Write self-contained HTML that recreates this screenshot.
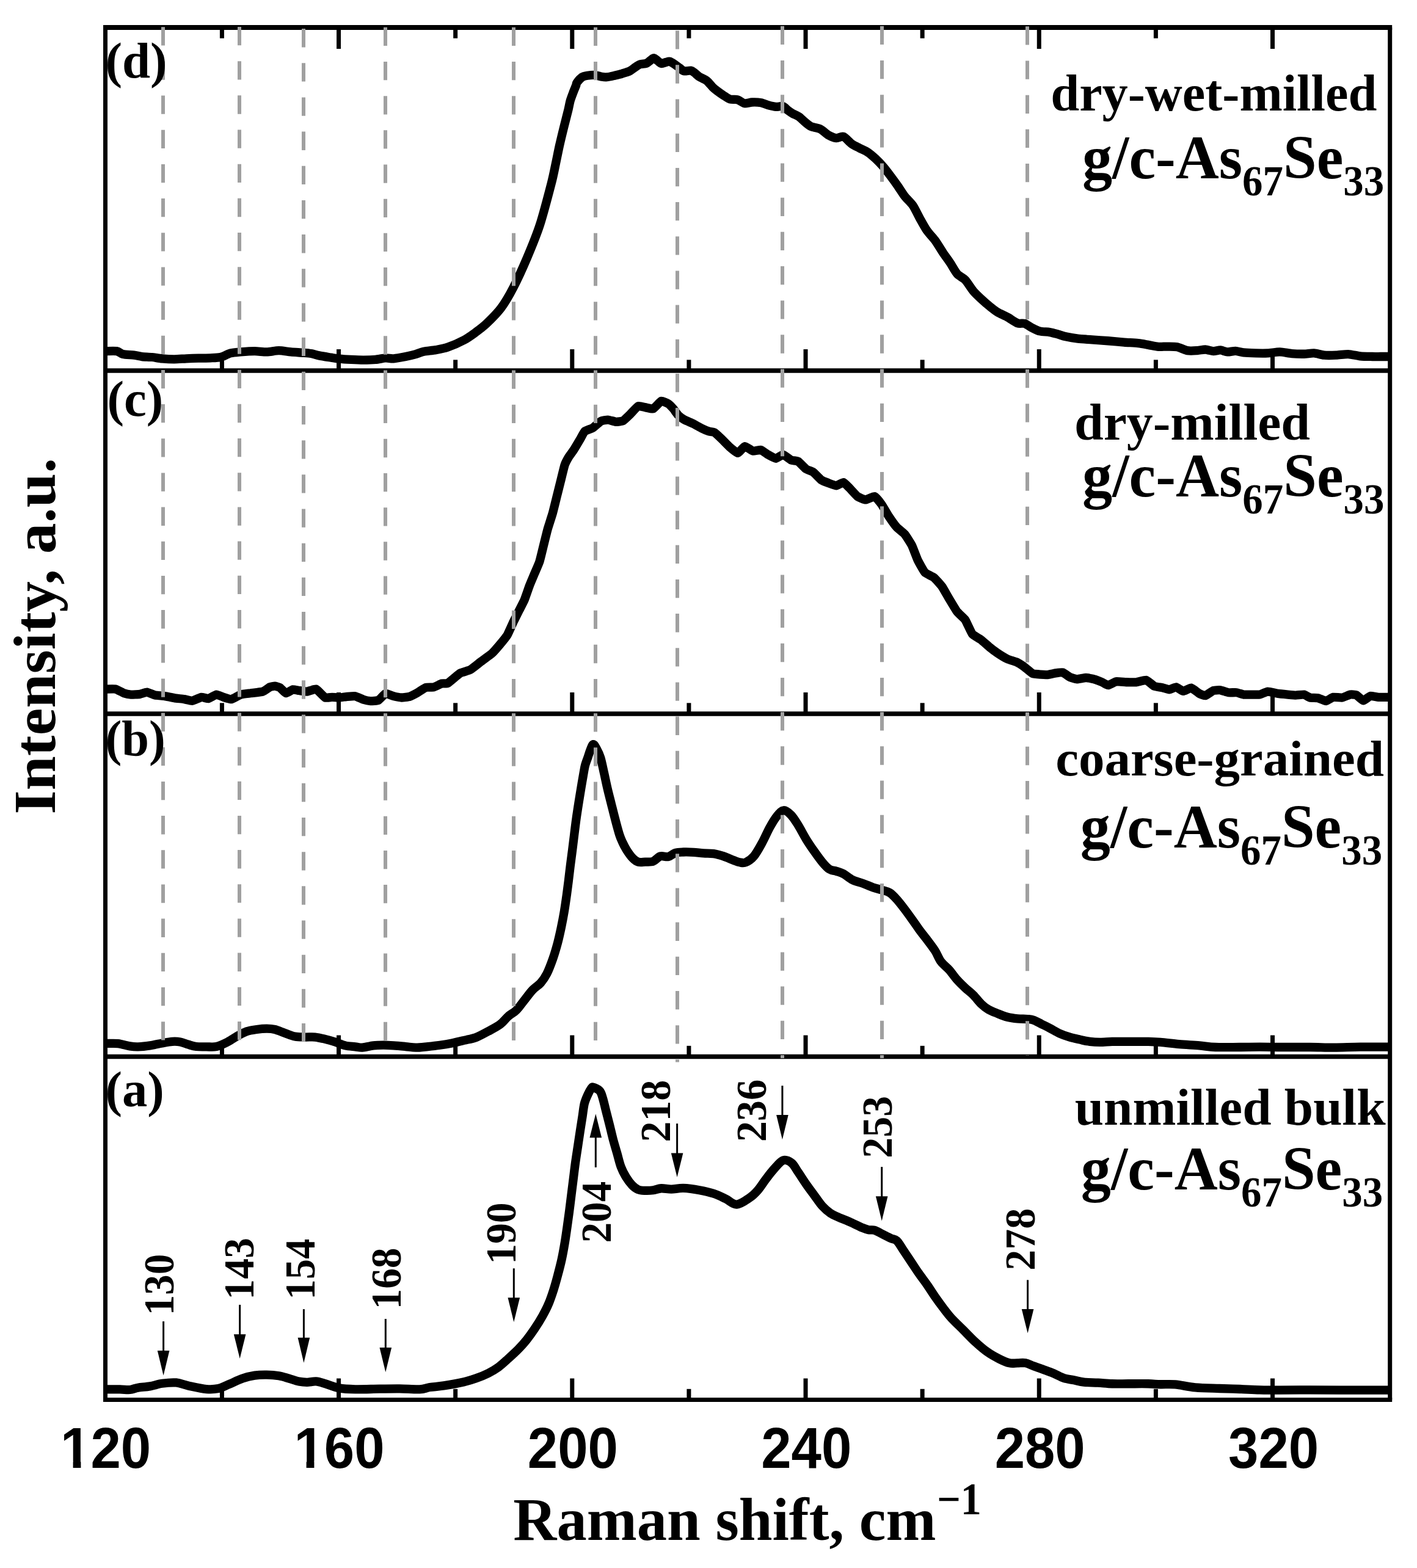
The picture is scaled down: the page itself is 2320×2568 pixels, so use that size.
<!DOCTYPE html>
<html lang="en"><head><meta charset="utf-8"><title>Raman spectra of g/c-As67Se33</title>
<style>html,body{margin:0;padding:0;background:#fff}body{width:2320px;height:2568px;overflow:hidden}svg{display:block}text{font-family:"Liberation Serif","DejaVu Serif",serif;font-weight:bold;fill:#000}.tk{font-family:"Liberation Sans","DejaVu Sans",sans-serif;font-weight:bold}</style></head><body>
<svg width="2320" height="2568" viewBox="0 0 2320 2568">
<rect width="2320" height="2568" fill="#fff"/>
<g stroke="#000" fill="none">
<line x1="169" y1="45" x2="2279.2" y2="45" stroke-width="8.0"/>
<line x1="169" y1="2292.5" x2="2279.2" y2="2292.5" stroke-width="7.0"/>
<line x1="172.5" y1="45" x2="172.5" y2="2292.5" stroke-width="7.0"/>
<line x1="2275.7" y1="45" x2="2275.7" y2="2292.5" stroke-width="7.0"/>
<line x1="172.5" y1="607" x2="2275.7" y2="607" stroke-width="7.5"/>
<line x1="172.5" y1="1169" x2="2275.7" y2="1169" stroke-width="7.5"/>
<line x1="172.5" y1="1730.5" x2="2275.7" y2="1730.5" stroke-width="7.5"/>
</g>
<g stroke="#000" stroke-width="7.0" fill="none">
<line x1="363.42" y1="45" x2="363.42" y2="62.7"/>
<line x1="363.42" y1="607" x2="363.42" y2="589.3"/>
<line x1="363.42" y1="1169" x2="363.42" y2="1151.3"/>
<line x1="363.42" y1="1730.5" x2="363.42" y2="1712.8"/>
<line x1="363.42" y1="2292.5" x2="363.42" y2="2274.8"/>
<line x1="554.54" y1="45" x2="554.54" y2="80"/>
<line x1="554.54" y1="607" x2="554.54" y2="572"/>
<line x1="554.54" y1="1169" x2="554.54" y2="1134"/>
<line x1="554.54" y1="1730.5" x2="554.54" y2="1695.5"/>
<line x1="554.54" y1="2292.5" x2="554.54" y2="2257.5"/>
<line x1="745.66" y1="45" x2="745.66" y2="62.7"/>
<line x1="745.66" y1="607" x2="745.66" y2="589.3"/>
<line x1="745.66" y1="1169" x2="745.66" y2="1151.3"/>
<line x1="745.66" y1="1730.5" x2="745.66" y2="1712.8"/>
<line x1="745.66" y1="2292.5" x2="745.66" y2="2274.8"/>
<line x1="936.78" y1="45" x2="936.78" y2="80"/>
<line x1="936.78" y1="607" x2="936.78" y2="572"/>
<line x1="936.78" y1="1169" x2="936.78" y2="1134"/>
<line x1="936.78" y1="1730.5" x2="936.78" y2="1695.5"/>
<line x1="936.78" y1="2292.5" x2="936.78" y2="2257.5"/>
<line x1="1127.9" y1="45" x2="1127.9" y2="62.7"/>
<line x1="1127.9" y1="607" x2="1127.9" y2="589.3"/>
<line x1="1127.9" y1="1169" x2="1127.9" y2="1151.3"/>
<line x1="1127.9" y1="1730.5" x2="1127.9" y2="1712.8"/>
<line x1="1127.9" y1="2292.5" x2="1127.9" y2="2274.8"/>
<line x1="1319.02" y1="45" x2="1319.02" y2="80"/>
<line x1="1319.02" y1="607" x2="1319.02" y2="572"/>
<line x1="1319.02" y1="1169" x2="1319.02" y2="1134"/>
<line x1="1319.02" y1="1730.5" x2="1319.02" y2="1695.5"/>
<line x1="1319.02" y1="2292.5" x2="1319.02" y2="2257.5"/>
<line x1="1510.14" y1="45" x2="1510.14" y2="62.7"/>
<line x1="1510.14" y1="607" x2="1510.14" y2="589.3"/>
<line x1="1510.14" y1="1169" x2="1510.14" y2="1151.3"/>
<line x1="1510.14" y1="1730.5" x2="1510.14" y2="1712.8"/>
<line x1="1510.14" y1="2292.5" x2="1510.14" y2="2274.8"/>
<line x1="1701.26" y1="45" x2="1701.26" y2="80"/>
<line x1="1701.26" y1="607" x2="1701.26" y2="572"/>
<line x1="1701.26" y1="1169" x2="1701.26" y2="1134"/>
<line x1="1701.26" y1="1730.5" x2="1701.26" y2="1695.5"/>
<line x1="1701.26" y1="2292.5" x2="1701.26" y2="2257.5"/>
<line x1="1892.38" y1="45" x2="1892.38" y2="62.7"/>
<line x1="1892.38" y1="607" x2="1892.38" y2="589.3"/>
<line x1="1892.38" y1="1169" x2="1892.38" y2="1151.3"/>
<line x1="1892.38" y1="1730.5" x2="1892.38" y2="1712.8"/>
<line x1="1892.38" y1="2292.5" x2="1892.38" y2="2274.8"/>
<line x1="2083.5" y1="45" x2="2083.5" y2="80"/>
<line x1="2083.5" y1="607" x2="2083.5" y2="572"/>
<line x1="2083.5" y1="1169" x2="2083.5" y2="1134"/>
<line x1="2083.5" y1="1730.5" x2="2083.5" y2="1695.5"/>
<line x1="2083.5" y1="2292.5" x2="2083.5" y2="2257.5"/>
</g>
<clipPath id="plot"><rect x="172.5" y="45" width="2103.2" height="2247.5"/></clipPath>
<g clip-path="url(#plot)" stroke="#000" stroke-width="14.3" fill="none" stroke-linejoin="round" stroke-linecap="butt">
<path d="M172.5,575.12C175.01,575.12 187.48,574.46 191.3,575.12C195.13,575.78 197.45,579.19 201.19,580.07C204.92,580.94 215.13,581.19 219.31,581.71C223.48,582.24 228.53,583.58 232.49,584.02C236.44,584.46 244.57,584.57 248.96,585.01C253.36,585.45 260.6,586.88 265.44,587.31C270.27,587.75 279.93,588.3 285.21,588.3C290.48,588.3 299.7,587.53 304.98,587.31C310.25,587.1 319.47,586.79 324.74,586.66C330.02,586.52 339.68,586.55 344.51,586.33C349.35,586.11 356.6,586.06 360.99,585.01C365.38,583.95 373.07,579.56 377.46,578.42C381.86,577.28 388.67,576.88 393.94,576.44C399.21,576 411.29,575.12 417,575.12C422.71,575.12 431.5,576.57 436.77,576.44C442.04,576.31 451.27,574.14 456.54,574.14C461.81,574.14 471.04,575.96 476.31,576.44C481.58,576.92 491.69,577.41 496.08,577.76C500.47,578.11 505.74,578.46 509.26,579.08C512.77,579.69 518.05,581.49 522.44,582.37C526.83,583.25 537.81,584.96 542.21,585.67C546.6,586.37 550.99,587.2 555.39,587.64C559.78,588.08 569.88,588.7 575.16,588.96C580.43,589.23 589.65,589.62 594.93,589.62C600.2,589.62 609.86,589.4 614.7,588.96C619.53,588.52 627.22,586.55 631.17,586.33C635.12,586.11 639.96,587.62 644.35,587.31C648.74,587.01 659.29,584.99 664.12,584.02C668.95,583.05 676.64,581.16 680.59,580.07C684.55,578.97 689.38,576.71 693.77,575.78C698.17,574.86 708.27,574.11 713.54,573.15C718.81,572.18 727.1,570.72 733.31,568.53C739.52,566.35 754.12,559.93 760.1,556.74C766.09,553.56 773.39,548.21 778.23,544.66C783.06,541.12 790.71,535.56 796.35,530.16C801.99,524.77 814.63,512.08 820.51,504.19C826.39,496.3 834.81,481.84 840.44,470.97C846.08,460.09 857,436.33 862.8,422.64C868.59,408.95 878.6,384.63 883.94,368.28C889.27,351.92 899.36,313.28 902.8,300C906.24,286.72 907.95,276.85 909.7,268.7C911.45,260.55 914.13,246.85 915.9,238.9C917.67,230.95 921.05,217.03 923,209.1C924.95,201.17 929.06,185.35 930.5,179.4C931.94,173.45 932.64,168.47 933.8,164.5C934.96,160.53 937.95,152.91 939.2,149.6C940.45,146.29 942.5,141.6 943.2,139.7C943.9,137.8 943.16,137.17 944.48,135.37C945.81,133.57 950.82,127.78 953.13,126.23C955.44,124.68 958.98,124.18 961.78,123.76C964.58,123.33 971.17,122.78 974.14,123.01C977.1,123.25 981.38,125.06 984.02,125.49C986.66,125.91 990.94,126.46 993.9,126.23C996.87,126 1002.97,124.51 1006.26,123.76C1009.56,123 1015.32,121.53 1018.62,120.54C1021.91,119.56 1028.01,117.83 1030.97,116.34C1033.94,114.86 1038.55,110.91 1040.86,109.42C1043.16,107.94 1045.96,105.98 1048.27,105.22C1050.58,104.46 1055.85,104.66 1058.15,103.74C1060.46,102.82 1063.92,99.46 1065.57,98.3C1067.22,97.15 1069.03,94.93 1070.51,95.09C1071.99,95.26 1075.04,98.35 1076.69,99.54C1078.34,100.72 1081.05,103.66 1082.87,103.99C1084.68,104.32 1088.47,102.44 1090.28,102.01C1092.09,101.58 1094.48,100.28 1096.46,100.77C1098.43,101.27 1102.97,104.33 1105.11,105.72C1107.25,107.1 1110.54,109.74 1112.52,111.15C1114.5,112.57 1117.46,115.75 1119.93,116.34C1122.41,116.94 1128.75,115.21 1131.05,115.6C1133.36,116 1135.42,117.99 1137.23,119.31C1139.04,120.63 1142.01,123.77 1144.65,125.49C1147.28,127.2 1154.04,129.85 1157,132.16C1159.97,134.46 1164.58,140.54 1166.89,142.78C1169.19,145.02 1171.99,147.22 1174.3,148.96C1176.61,150.71 1181.38,154.07 1184.18,155.88C1186.99,157.69 1192.17,161.57 1195.3,162.55C1198.43,163.54 1204.53,162.41 1207.66,163.29C1210.79,164.18 1215.65,168.67 1218.78,169.23C1221.91,169.79 1227.51,167.63 1231.14,167.5C1234.76,167.36 1242.34,167.58 1245.96,168.24C1249.59,168.9 1255.02,171.55 1258.32,172.44C1261.61,173.33 1267.55,174.68 1270.68,174.91C1273.81,175.14 1279.16,173.34 1281.8,174.17C1284.43,174.99 1288.3,179.51 1290.44,181.09C1292.59,182.67 1295.55,184.71 1297.86,186.03C1300.16,187.35 1305.11,189.16 1307.74,190.97C1310.38,192.78 1314.99,197.48 1317.63,199.62C1320.26,201.76 1324.12,205.48 1327.51,207.03C1330.9,208.59 1339.23,209.41 1343.06,211.3C1346.9,213.19 1352.73,219.21 1356.24,221.19C1359.76,223.16 1366.13,225.78 1369.42,226.13C1372.72,226.48 1377.66,222.59 1380.96,223.82C1384.25,225.05 1390.62,232.85 1394.14,235.35C1397.65,237.86 1403.8,240.76 1407.31,242.6C1410.83,244.45 1416.98,246.86 1420.49,249.19C1424.01,251.52 1430.16,256.77 1433.67,260.07C1437.19,263.36 1443.56,270.08 1446.85,273.9C1450.15,277.73 1455.31,284.65 1458.39,288.73C1461.46,292.82 1466.84,300.15 1469.92,304.55C1472.99,308.94 1478.15,317.42 1481.45,321.68C1484.74,325.94 1491.33,331.67 1494.63,336.51C1497.92,341.34 1503.09,352.43 1506.16,357.92C1509.24,363.42 1514.4,372.95 1517.69,377.69C1520.99,382.44 1527.36,388.68 1530.87,393.51C1534.39,398.34 1540.76,409.02 1544.05,413.94C1547.35,418.86 1552.51,425.8 1555.58,430.41C1558.66,435.02 1563.82,444.8 1567.12,448.53C1570.41,452.27 1576.78,454.68 1580.3,458.42C1583.81,462.15 1589.96,472.37 1593.48,476.54C1596.99,480.71 1603.14,486.43 1606.66,489.72C1610.17,493.01 1616.32,498.4 1619.84,501.25C1623.35,504.11 1629.06,508.72 1633.01,511.14C1636.97,513.55 1645.1,516.96 1649.49,519.37C1653.88,521.79 1662.23,527.85 1665.96,529.26C1669.7,530.66 1674.42,528.95 1677.5,529.92C1680.57,530.88 1685.73,534.84 1689.03,536.51C1692.32,538.18 1698.25,541.43 1702.21,542.44C1706.16,543.45 1714.73,543.43 1718.68,544.09C1722.64,544.74 1728.35,546.41 1731.86,547.38C1735.38,548.35 1740.65,550.37 1745.04,551.33C1749.43,552.3 1759.1,553.97 1764.81,554.63C1770.52,555.29 1781.29,555.79 1787.87,556.28C1794.46,556.76 1807.2,557.68 1814.23,558.25C1821.26,558.82 1834,560.03 1840.59,560.56C1847.18,561.09 1858.39,561.64 1863.66,562.21C1868.93,562.78 1875.74,564.1 1880.13,564.84C1884.52,565.59 1892.51,567.45 1896.61,567.81C1900.71,568.17 1906.77,567.49 1910.87,567.55C1914.97,567.6 1922.95,567.33 1927.35,568.2C1931.74,569.08 1939.43,573.34 1943.82,574.14C1948.22,574.93 1956.34,574.35 1960.3,574.14C1964.25,573.92 1969.96,572.36 1973.48,572.49C1976.99,572.62 1983.36,574.99 1986.66,575.12C1989.95,575.26 1995.11,573.3 1998.19,573.48C2001.26,573.65 2006.43,576.27 2009.72,576.44C2013.01,576.62 2019.38,574.66 2022.9,574.79C2026.41,574.93 2031.69,576.95 2036.08,577.43C2040.47,577.91 2050.58,578.29 2055.85,578.42C2061.12,578.55 2070.35,578.68 2075.62,578.42C2080.89,578.15 2090.12,576.35 2095.39,576.44C2100.66,576.53 2109.88,578.64 2115.16,579.08C2120.43,579.52 2130.09,579.82 2134.93,579.74C2139.76,579.65 2147.01,578.15 2151.4,578.42C2155.79,578.68 2163.04,581.27 2167.87,581.71C2172.71,582.15 2182.37,581.93 2187.64,581.71C2192.92,581.49 2202.14,579.85 2207.41,580.07C2212.69,580.29 2221.91,582.83 2227.18,583.36C2232.45,583.89 2242.56,583.93 2246.95,584.02C2251.35,584.11 2256.3,584.02 2260.13,584.02C2263.96,584.02 2273.62,584.02 2275.7,584.02"/>
<path d="M172.5,1128.65C173.64,1128.65 187.63,1128.21 189.65,1128.65C191.68,1129.09 201.19,1134.65 202.83,1135.24C204.48,1135.83 212.61,1137.44 214.37,1137.55C216.12,1137.66 227.44,1137.15 229.19,1136.89C230.95,1136.62 239.08,1133.48 240.72,1133.59C242.37,1133.7 252.04,1138.12 253.9,1138.53C255.77,1138.95 266.64,1139.54 268.73,1139.85C270.82,1140.16 283.01,1142.8 285.21,1143.15C287.4,1143.5 299.7,1144.82 301.68,1145.12C303.66,1145.43 312.99,1147.98 314.86,1147.76C316.73,1147.54 327.93,1142.07 329.69,1141.83C331.44,1141.59 339.57,1144.42 341.22,1144.14C342.87,1143.85 352.75,1137.7 354.4,1137.55C356.05,1137.39 364.28,1141.32 365.93,1141.83C367.58,1142.33 377.24,1145.41 379.11,1145.12C380.98,1144.84 391.85,1138.2 393.94,1137.55C396.02,1136.89 408,1135.57 410.41,1135.24C412.83,1134.91 428.09,1133.26 430.18,1132.6C432.27,1131.94 440.4,1125.95 441.71,1125.35C443.03,1124.76 448.85,1123.66 449.95,1123.71C451.05,1123.75 456.98,1125.24 458.19,1126.01C459.4,1126.78 466.64,1135.02 468.07,1135.24C469.5,1135.46 478.18,1129.59 479.6,1129.31C481.03,1129.02 487.95,1130.74 489.49,1130.96C491.03,1131.18 500.8,1132.76 502.67,1132.6C504.54,1132.45 515.52,1127.99 517.5,1128.65C519.47,1129.31 530.57,1141.61 532.32,1142.49C534.08,1143.37 542.32,1141.83 543.86,1141.83C545.39,1141.83 553.74,1142.55 555.39,1142.49C557.03,1142.42 566.81,1140.99 568.57,1140.84C570.32,1140.69 579.99,1139.85 581.75,1140.18C583.5,1140.51 593.28,1145.26 594.93,1145.78C596.57,1146.31 604.81,1148.02 606.46,1148.09C608.11,1148.15 617.99,1147.58 619.64,1146.77C621.29,1145.96 629.52,1136.34 631.17,1135.9C632.82,1135.46 642.59,1139.74 644.35,1140.18C646.11,1140.62 655.77,1142.44 657.53,1142.49C659.29,1142.53 668.95,1141.39 670.71,1140.84C672.47,1140.29 682.13,1135.24 683.89,1134.25C685.65,1133.26 695.31,1126.61 697.07,1126.01C698.82,1125.42 708.49,1125.79 710.25,1125.35C712,1124.91 721.89,1119.86 723.43,1119.42C724.96,1118.98 731.33,1119.88 733.31,1118.76C735.29,1117.65 750.76,1104.15 753.18,1102.7C755.6,1101.26 767.46,1098.31 769.65,1097.1C771.85,1095.89 783.71,1086.4 786.13,1084.58C788.54,1082.76 803.7,1071.73 805.9,1069.75C808.09,1067.78 817.43,1056.9 819.08,1054.93C820.72,1052.95 829.18,1042.52 830.61,1040.1C832.04,1037.68 839.18,1021.43 840.49,1018.68C841.81,1015.94 849.17,1001.33 850.38,998.91C851.59,996.5 857.52,985.07 858.62,982.44C859.71,979.8 865.76,962.23 866.85,959.37C867.95,956.52 873.99,942.24 875.09,939.6C876.19,936.97 882.34,922.91 883.33,919.84C884.32,916.76 889.04,896.99 889.92,893.48C890.8,889.96 895.52,870.63 896.51,867.12C897.5,863.6 903.76,844.27 904.74,840.76C905.73,837.24 910.46,817.91 911.33,814.4C912.21,810.88 917.05,791.55 917.92,788.04C918.8,784.52 923.64,764.32 924.51,761.68C925.39,759.04 930.12,750.15 931.1,748.5C932.09,746.85 938.13,738.84 939.34,736.97C940.55,735.1 948.02,722.54 949.23,720.49C950.43,718.45 956.04,707.64 957.46,706.33C958.89,705.01 968.89,701.82 970.64,700.72C972.4,699.63 982.17,690.73 983.82,689.85C985.47,688.97 993.71,687.48 995.35,687.55C997,687.61 1006.89,690.73 1008.53,690.84C1010.18,690.95 1018.53,690.01 1020.07,689.19C1021.6,688.38 1029.95,680.25 1031.6,678.65C1033.25,677.05 1043.13,665.91 1044.78,665.14C1046.43,664.37 1054.66,666.83 1056.31,667.12C1057.96,667.4 1067.73,670.1 1069.49,669.42C1071.25,668.74 1081.02,657.45 1082.67,656.9C1084.32,656.35 1092.88,660.35 1094.2,661.19C1095.52,662.02 1101.34,668.15 1102.44,669.42C1103.54,670.7 1109.47,679.09 1110.68,680.3C1111.88,681.5 1118.91,686.62 1120.56,687.55C1122.21,688.47 1133.52,693.21 1135.39,694.14C1137.25,695.06 1146.92,700.57 1148.57,701.38C1150.21,702.2 1158.67,705.86 1160.1,706.33C1161.53,706.79 1168.56,707.47 1169.98,708.3C1171.41,709.14 1179.87,717.27 1181.52,718.85C1183.16,720.43 1192.94,730.49 1194.7,732.03C1196.45,733.56 1206.23,741.98 1207.87,741.91C1209.52,741.85 1217.76,731.26 1219.41,731.04C1221.05,730.82 1230.83,738.22 1232.59,738.62C1234.34,739.01 1244.12,736.57 1245.77,736.97C1247.41,737.36 1255.65,743.62 1257.3,744.55C1258.95,745.47 1268.83,750.81 1270.48,750.81C1272.13,750.81 1280.36,744.37 1282.01,744.55C1283.66,744.72 1293.54,752.7 1295.19,753.44C1296.84,754.19 1305.07,754.76 1306.72,755.75C1308.37,756.74 1318.25,767.11 1319.9,768.27C1321.55,769.43 1329.78,772.02 1331.43,773.21C1333.09,774.4 1343.06,784.94 1344.71,786.13C1346.37,787.32 1354.6,790.46 1356.24,791.07C1357.89,791.69 1367.78,795.42 1369.42,795.35C1371.07,795.29 1379.53,789.82 1380.96,790.08C1382.38,790.35 1389.3,797.77 1390.84,799.31C1392.38,800.85 1402.26,811.87 1404.02,813.15C1405.78,814.42 1415.33,818.42 1417.2,818.42C1419.07,818.42 1430.27,812.62 1432.03,813.15C1433.78,813.67 1442.02,824.17 1443.56,826.33C1445.1,828.48 1453.44,842.95 1455.09,845.44C1456.74,847.92 1466.51,861.58 1468.27,863.56C1470.03,865.54 1479.8,873.11 1481.45,875.09C1483.1,877.07 1491.55,890.36 1492.98,893.21C1494.41,896.07 1501.44,914.96 1502.87,917.92C1504.29,920.89 1512.64,935.83 1514.4,937.69C1516.16,939.56 1527.36,944.39 1529.23,945.93C1531.09,947.47 1540.76,958.45 1542.41,960.76C1544.05,963.06 1552.29,977.78 1553.94,980.53C1555.58,983.27 1565.36,999.64 1567.12,1001.94C1568.87,1004.25 1578.65,1012.71 1580.3,1015.12C1581.94,1017.54 1590.07,1035.99 1591.83,1038.19C1593.59,1040.38 1604.79,1046.64 1606.66,1048.07C1608.52,1049.5 1618.08,1058.18 1619.84,1059.6C1621.59,1061.03 1631.04,1068.17 1633.01,1069.49C1634.99,1070.81 1647.4,1078.39 1649.49,1079.37C1651.58,1080.36 1662.45,1083.44 1664.32,1084.32C1666.18,1085.19 1675.74,1091.3 1677.5,1092.55C1679.25,1093.81 1688.92,1102.28 1690.68,1103.1C1692.43,1103.91 1702.21,1104.61 1703.86,1104.74C1705.5,1104.88 1713.74,1105.23 1715.39,1105.07C1717.03,1104.92 1726.92,1102.68 1728.57,1102.44C1730.21,1102.2 1738.56,1101.01 1740.1,1101.45C1741.64,1101.89 1750.09,1108.3 1751.63,1109.03C1753.17,1109.75 1761.41,1112.26 1763.16,1112.32C1764.92,1112.39 1776.12,1110.02 1777.99,1110.02C1779.86,1110.02 1789.41,1111.84 1791.17,1112.32C1792.93,1112.81 1802.81,1116.61 1804.35,1117.27C1805.89,1117.92 1812.7,1122.27 1814.23,1122.21C1815.77,1122.14 1825.44,1116.61 1827.41,1116.28C1829.39,1115.95 1841.69,1117.2 1843.89,1117.27C1846.08,1117.33 1858.17,1117.48 1860.36,1117.27C1862.56,1117.05 1874.86,1113.53 1876.84,1113.97C1878.81,1114.41 1888.26,1123.04 1890.02,1123.86C1891.77,1124.67 1901.59,1125.8 1903.2,1126.16C1904.81,1126.52 1912.67,1129.36 1914.17,1129.31C1915.67,1129.25 1924.16,1125.18 1925.7,1125.35C1927.24,1125.53 1935.58,1131.86 1937.23,1131.94C1938.88,1132.03 1948.65,1126.41 1950.41,1126.67C1952.17,1126.94 1962.05,1135.06 1963.59,1135.9C1965.13,1136.73 1971.94,1139.52 1973.48,1139.19C1975.01,1138.86 1985.01,1131.55 1986.66,1130.96C1988.3,1130.36 1996.54,1130.08 1998.19,1130.3C1999.84,1130.52 2009.61,1133.99 2011.37,1134.25C2013.12,1134.51 2022.9,1134.03 2024.55,1134.25C2026.19,1134.47 2034.43,1137.33 2036.08,1137.55C2037.73,1137.76 2047.5,1137.55 2049.26,1137.55C2051.02,1137.55 2060.68,1137.87 2062.44,1137.55C2064.2,1137.22 2073.64,1132.71 2075.62,1132.6C2077.59,1132.49 2089.9,1135.57 2092.09,1135.9C2094.29,1136.23 2106.59,1137.37 2108.57,1137.55C2110.54,1137.72 2119.99,1138.53 2121.75,1138.53C2123.5,1138.53 2133.39,1137.28 2134.93,1137.55C2136.46,1137.81 2143.27,1142.11 2144.81,1142.49C2146.35,1142.86 2156.23,1142.77 2157.99,1143.15C2159.75,1143.52 2169.52,1148.18 2171.17,1148.09C2172.82,1148 2180.94,1142.2 2182.7,1141.83C2184.46,1141.46 2195.66,1142.77 2197.53,1142.49C2199.4,1142.2 2209.17,1137.83 2210.71,1137.55C2212.25,1137.26 2219.17,1137.55 2220.59,1138.2C2222.02,1138.86 2230.59,1147.32 2232.13,1147.43C2233.66,1147.54 2242.01,1140.23 2243.66,1139.85C2245.3,1139.48 2254.7,1141.7 2256.84,1141.83C2258.97,1141.96 2274.44,1141.83 2275.7,1141.83"/>
<path d="M172.5,1709.08C175.91,1709.08 186.25,1708.36 192.95,1709.08C199.65,1709.79 207.23,1712.48 212.72,1713.36C218.21,1714.24 220.41,1714.51 225.9,1714.35C231.39,1714.18 239.08,1713.36 245.67,1712.37C252.26,1711.38 259.4,1709.52 265.44,1708.42C271.48,1707.32 276.97,1706.11 281.91,1705.78C286.85,1705.45 290.7,1705.62 295.09,1706.44C299.48,1707.27 303.88,1709.46 308.27,1710.72C312.66,1711.99 316.51,1713.42 321.45,1714.02C326.39,1714.62 332.43,1714.35 337.92,1714.35C343.42,1714.35 348.91,1715.17 354.4,1714.02C359.89,1712.87 365.38,1710.18 370.87,1707.43C376.36,1704.68 381.86,1700.57 387.35,1697.55C392.84,1694.52 398.33,1691.23 403.82,1689.31C409.31,1687.39 414.81,1686.78 420.3,1686.01C425.79,1685.24 431.83,1684.7 436.77,1684.7C441.71,1684.7 445.01,1684.81 449.95,1686.01C454.89,1687.22 460.93,1690.02 466.43,1691.94C471.92,1693.87 477.41,1696.45 482.9,1697.55C488.39,1698.64 493.88,1698.37 499.37,1698.53C504.87,1698.7 510.36,1697.98 515.85,1698.53C521.34,1699.08 526.83,1700.51 532.32,1701.83C537.81,1703.15 543.31,1704.68 548.8,1706.44C554.29,1708.2 559.78,1711.05 565.27,1712.37C570.76,1713.69 577.08,1713.8 581.75,1714.35C586.41,1714.9 588.34,1716 593.28,1715.67C598.22,1715.34 605.63,1713.03 611.4,1712.37C617.17,1711.71 622.38,1711.71 627.87,1711.71C633.37,1711.71 638.31,1711.99 644.35,1712.37C650.39,1712.76 658.08,1713.47 664.12,1714.02C670.16,1714.57 674.55,1715.67 680.59,1715.67C686.63,1715.67 693.77,1714.68 700.36,1714.02C706.95,1713.36 713.54,1712.65 720.13,1711.71C726.72,1710.78 733.29,1709.72 739.9,1708.42C746.51,1707.11 753.16,1705.47 759.77,1703.89C766.38,1702.31 772.95,1701.42 779.54,1698.95C786.13,1696.47 792.72,1692.63 799.31,1689.06C805.9,1685.49 813.59,1681.65 819.08,1677.53C824.57,1673.41 827.86,1668.19 832.26,1664.35C836.65,1660.51 841.04,1658.86 845.44,1654.46C849.83,1650.07 854.22,1643.48 858.62,1637.99C863.01,1632.5 867.35,1626.23 871.8,1621.52C876.24,1616.8 881.37,1614.19 885.3,1609.7C889.23,1605.21 892.03,1601.33 895.4,1594.6C898.77,1587.87 902.55,1577.73 905.5,1569.3C908.45,1560.87 910.87,1552.43 913.1,1544C915.33,1535.57 917.13,1527.13 918.9,1518.7C920.67,1510.27 922.27,1501.83 923.7,1493.4C925.13,1484.97 926.32,1476.53 927.5,1468.1C928.68,1459.67 929.75,1451.22 930.8,1442.8C931.85,1434.38 932.75,1426.02 933.8,1417.6C934.85,1409.18 936.03,1400.73 937.1,1392.3C938.17,1383.87 939.15,1375.43 940.2,1367C941.25,1358.57 942.23,1350.13 943.4,1341.7C944.57,1333.27 945.88,1324.83 947.2,1316.4C948.52,1307.97 949.9,1299.52 951.3,1291.1C952.7,1282.68 954.47,1272.22 955.6,1265.9C956.73,1259.58 956.97,1257.42 958.1,1253.2C959.23,1248.98 961,1244.72 962.4,1240.6C963.8,1236.48 965.02,1232.08 966.5,1228.5C967.98,1224.92 969.58,1219.43 971.3,1219.1C973.02,1218.77 974.83,1222.92 976.8,1226.5C978.77,1230.08 981.07,1234.03 983.1,1240.6C985.13,1247.17 987.1,1257.48 989,1265.9C990.9,1274.32 992.53,1282.68 994.5,1291.1C996.47,1299.52 998.68,1307.97 1000.8,1316.4C1002.92,1324.83 1004.97,1333.27 1007.2,1341.7C1009.43,1350.13 1012.18,1360.68 1014.2,1367C1016.22,1373.32 1017.32,1375.38 1019.3,1379.6C1021.28,1383.82 1023.32,1387.98 1026.1,1392.3C1028.88,1396.62 1032.89,1402.28 1036,1405.5C1039.11,1408.72 1041.39,1410.61 1044.78,1411.63C1048.16,1412.65 1052.19,1411.8 1056.31,1411.63C1060.43,1411.47 1065.37,1412.18 1069.49,1410.64C1073.61,1409.1 1076.9,1403.67 1081.02,1402.41C1085.14,1401.14 1090.08,1404 1094.2,1403.06C1098.32,1402.13 1101.61,1398.07 1105.73,1396.8C1109.85,1395.54 1113.97,1395.65 1118.91,1395.49C1123.86,1395.32 1129.9,1395.49 1135.39,1395.82C1140.88,1396.14 1146.37,1397.08 1151.86,1397.46C1157.35,1397.85 1162.84,1397.3 1168.34,1398.12C1173.83,1398.95 1179.32,1400.59 1184.81,1402.41C1190.3,1404.22 1196.89,1407.35 1201.29,1409C1205.68,1410.64 1207.87,1411.74 1211.17,1412.29C1214.46,1412.84 1217.21,1413.94 1221.05,1412.29C1224.9,1410.64 1229.84,1407.62 1234.23,1402.41C1238.63,1397.19 1243.02,1388.95 1247.41,1380.99C1251.81,1373.03 1256.47,1362.04 1260.59,1354.63C1264.71,1347.22 1268.39,1341.07 1272.13,1336.51C1275.86,1331.95 1279.15,1327.56 1283,1327.28C1286.84,1327.01 1291.24,1330.85 1295.19,1334.86C1299.14,1338.87 1302.6,1344.74 1306.72,1351.33C1310.84,1357.92 1315.51,1367.26 1319.9,1374.4C1324.29,1381.54 1328.67,1387.9 1333.08,1394.17C1337.49,1400.44 1342.22,1407.13 1346.36,1412.03C1350.49,1416.92 1354.05,1421.09 1357.89,1423.56C1361.74,1426.03 1365.58,1425.59 1369.42,1426.85C1373.27,1428.12 1376.56,1428.78 1380.96,1431.14C1385.35,1433.5 1390.57,1438.44 1395.78,1441.02C1401,1443.6 1406.77,1444.59 1412.26,1446.62C1417.75,1448.65 1423.51,1451.4 1428.73,1453.21C1433.95,1455.02 1438.89,1456.01 1443.56,1457.5C1448.23,1458.98 1452.62,1459.53 1456.74,1462.11C1460.86,1464.69 1464.15,1468.42 1468.27,1472.98C1472.39,1477.54 1477.06,1483.69 1481.45,1489.46C1485.84,1495.22 1490.51,1501.81 1494.63,1507.58C1498.75,1513.34 1502.32,1518.84 1506.16,1524.05C1510.01,1529.27 1513.57,1533.39 1517.69,1538.88C1521.81,1544.37 1527.03,1550.96 1530.87,1557C1534.72,1563.04 1536.91,1569.91 1540.76,1575.12C1544.6,1580.34 1549.54,1583.36 1553.94,1588.3C1558.33,1593.25 1562.72,1599.84 1567.12,1604.78C1571.51,1609.72 1575.9,1613.84 1580.3,1617.96C1584.69,1622.08 1589.08,1625.1 1593.48,1629.49C1597.87,1633.88 1602.54,1640.36 1606.66,1644.32C1610.77,1648.27 1613.79,1650.63 1618.19,1653.21C1622.58,1655.79 1627.8,1657.72 1633.01,1659.8C1638.23,1661.89 1644,1664.31 1649.49,1665.73C1654.98,1667.16 1660.47,1667.82 1665.96,1668.37C1671.46,1668.92 1678.05,1668.64 1682.44,1669.03C1686.83,1669.41 1688.48,1669.3 1692.32,1670.68C1696.17,1672.05 1701.11,1675.07 1705.5,1677.27C1709.9,1679.46 1713.74,1681.27 1718.68,1683.86C1723.62,1686.44 1729.67,1690.28 1735.16,1692.75C1740.65,1695.22 1746.14,1697.03 1751.63,1698.68C1757.12,1700.33 1762.61,1701.43 1768.11,1702.64C1773.6,1703.84 1779.09,1705.22 1784.58,1705.93C1790.07,1706.64 1795.01,1706.92 1801.05,1706.92C1807.1,1706.92 1814.23,1706.1 1820.82,1705.93C1827.41,1705.77 1834,1705.93 1840.59,1705.93C1847.18,1705.93 1853.77,1705.93 1860.36,1705.93C1866.95,1705.93 1873.54,1705.77 1880.13,1705.93C1886.72,1706.1 1891.48,1706.23 1899.9,1706.92C1908.32,1707.61 1920.03,1709.16 1930.64,1710.07C1941.26,1710.97 1953.71,1711.55 1963.59,1712.37C1973.48,1713.2 1978.97,1714.57 1989.95,1715.01C2000.93,1715.45 2017.41,1715.06 2029.49,1715.01C2041.57,1714.95 2051.46,1714.68 2062.44,1714.68C2073.42,1714.68 2081.66,1714.95 2095.39,1715.01C2109.12,1715.06 2129.98,1714.9 2144.81,1715.01C2159.64,1715.12 2170.62,1715.72 2184.35,1715.67C2198.08,1715.61 2211.96,1714.84 2227.18,1714.68C2242.41,1714.51 2267.61,1714.68 2275.7,1714.68"/>
<path d="M172.5,2275.34C176.46,2275.34 189.54,2275.23 196.24,2275.34C202.95,2275.45 207.78,2276.44 212.72,2276C217.66,2275.56 220.41,2273.64 225.9,2272.7C231.39,2271.77 239.08,2271.55 245.67,2270.4C252.26,2269.24 258.3,2266.77 265.44,2265.78C272.58,2264.79 281.36,2263.86 288.5,2264.46C295.64,2265.07 300.03,2267.65 308.27,2269.41C316.51,2271.16 329.69,2274.24 337.92,2275.01C346.16,2275.78 351.65,2275.28 357.69,2274.02C363.73,2272.76 367.58,2270.18 374.17,2267.43C380.76,2264.68 390.09,2260.02 397.23,2257.55C404.37,2255.07 410.41,2253.59 417,2252.6C423.59,2251.61 430.18,2251.5 436.77,2251.61C443.36,2251.72 450.5,2252.27 456.54,2253.26C462.58,2254.25 467.52,2256.01 473.01,2257.55C478.51,2259.08 484.55,2261.44 489.49,2262.49C494.43,2263.53 498,2263.81 502.67,2263.81C507.34,2263.81 512.55,2262.1 517.5,2262.49C522.44,2262.87 526.01,2264.3 532.32,2266.11C538.64,2267.92 547.15,2271.82 555.39,2273.36C563.62,2274.9 570.76,2275.12 581.75,2275.34C592.73,2275.56 609.2,2274.84 621.29,2274.68C633.37,2274.51 643.25,2274.24 654.23,2274.35C665.22,2274.46 678.95,2275.72 687.18,2275.34C695.42,2274.95 697.07,2273.03 703.66,2272.04C710.25,2271.05 717.37,2270.88 726.72,2269.41C736.07,2267.94 750.97,2265.25 759.77,2263.23C768.57,2261.21 772.95,2259.66 779.54,2257.3C786.13,2254.94 793.27,2252.08 799.31,2249.06C805.35,2246.04 810.29,2243.19 815.78,2239.18C821.27,2235.17 826.77,2229.95 832.26,2225.01C837.75,2220.07 843.79,2214.57 848.73,2209.52C853.67,2204.47 857.52,2200.19 861.91,2194.7C866.3,2189.2 870.7,2183.16 875.09,2176.57C879.48,2169.98 884.43,2162.02 888.27,2155.16C892.11,2148.29 895.13,2142.53 898.15,2135.39C901.18,2128.25 903.92,2120.01 906.39,2112.32C908.86,2104.63 910.79,2097.5 912.98,2089.26C915.18,2081.02 917.65,2071.69 919.57,2062.9C921.49,2054.11 923.03,2045.33 924.51,2036.54C926,2027.75 927.2,2018.97 928.47,2010.18C929.73,2001.39 930.94,1992.61 932.09,1983.82C933.25,1975.04 934.29,1966.25 935.39,1957.46C936.49,1948.68 937.58,1939.89 938.68,1931.1C939.78,1922.32 940.77,1913.53 941.98,1904.74C943.19,1895.96 944.61,1887.17 945.93,1878.39C947.25,1869.6 948.62,1860.26 949.88,1852.03C951.15,1843.79 952.36,1836.38 953.51,1828.96C954.66,1821.55 955.32,1813.59 956.8,1807.55C958.29,1801.5 960.48,1796.95 962.41,1792.72C964.33,1788.49 966.8,1784.15 968.34,1782.17C969.87,1780.2 969.32,1780.09 971.63,1780.86C973.94,1781.63 979.59,1783.71 982.17,1786.79C984.76,1789.86 985.47,1793.93 987.12,1799.31C988.76,1804.69 990.25,1811.94 992.06,1819.08C993.87,1826.22 996.07,1834.45 997.99,1842.14C999.91,1849.83 1001.56,1857.52 1003.59,1865.21C1005.62,1872.89 1007.98,1880.58 1010.18,1888.27C1012.38,1895.96 1014.3,1904.74 1016.77,1911.33C1019.24,1917.92 1021.99,1922.87 1025.01,1927.81C1028.03,1932.75 1031.6,1937.58 1034.89,1940.99C1038.19,1944.39 1041.21,1946.75 1044.78,1948.24C1048.35,1949.72 1052.19,1949.72 1056.31,1949.88C1060.43,1950.05 1065.1,1949.83 1069.49,1949.23C1073.88,1948.62 1077.73,1946.53 1082.67,1946.26C1087.61,1945.99 1093.1,1947.63 1099.14,1947.58C1105.18,1947.52 1111.22,1945.66 1118.91,1945.93C1126.6,1946.21 1137.03,1947.74 1145.27,1949.23C1153.51,1950.71 1161.2,1952.47 1168.34,1954.83C1175.48,1957.19 1181.79,1960.43 1188.11,1963.39C1194.42,1966.36 1199.64,1972.95 1206.23,1972.62C1212.82,1972.29 1221.88,1965.32 1227.64,1961.42C1233.41,1957.52 1236.43,1954.28 1240.82,1949.23C1245.22,1944.17 1249.61,1936.87 1254,1931.1C1258.4,1925.34 1262.52,1919.74 1267.18,1914.63C1271.85,1909.52 1277.18,1902.11 1282.01,1900.46C1286.84,1898.81 1292.06,1901.56 1296.18,1904.74C1300.3,1907.93 1302.77,1913.81 1306.72,1919.57C1310.68,1925.34 1315.51,1933.03 1319.9,1939.34C1324.29,1945.66 1328.67,1951.47 1333.08,1957.46C1337.49,1963.46 1341.95,1970.42 1346.36,1975.32C1350.77,1980.22 1355.15,1983.83 1359.54,1986.85C1363.93,1989.87 1367.23,1990.97 1372.72,1993.44C1378.21,1995.91 1385.9,1998.77 1392.49,2001.68C1399.08,2004.59 1407.31,2008.82 1412.26,2010.91C1417.2,2012.99 1418.85,2013.54 1422.14,2014.2C1425.44,2014.86 1428.18,2013.65 1432.03,2014.86C1435.87,2016.07 1440.81,2019.25 1445.21,2021.45C1449.6,2023.65 1454.54,2026.28 1458.39,2028.04C1462.23,2029.8 1464.98,2028.97 1468.27,2031.99C1471.57,2035.01 1474.31,2040.51 1478.15,2046.16C1482,2051.82 1486.94,2059.34 1491.33,2065.93C1495.73,2072.52 1500.12,2079.38 1504.51,2085.7C1508.91,2092.02 1513.3,2097.51 1517.69,2103.82C1522.09,2110.14 1526.48,2117.28 1530.87,2123.59C1535.27,2129.91 1539.66,2135.95 1544.05,2141.71C1548.45,2147.48 1551.74,2152.15 1557.23,2158.19C1562.72,2164.23 1570.41,2171.37 1577,2177.96C1583.59,2184.55 1590.18,2191.69 1596.77,2197.73C1603.36,2203.77 1609.95,2209.53 1616.54,2214.2C1623.13,2218.87 1630.27,2222.71 1636.31,2225.73C1642.35,2228.75 1647.84,2231.22 1652.78,2232.32C1657.73,2233.42 1661.57,2232.32 1665.96,2232.32C1670.36,2232.32 1674.75,2231.5 1679.14,2232.32C1683.54,2233.15 1687.38,2235.45 1692.32,2237.27C1697.27,2239.08 1703.31,2241.16 1708.8,2243.2C1714.29,2245.23 1719.78,2247.15 1725.27,2249.46C1730.76,2251.76 1736.25,2255.22 1741.75,2257.03C1747.24,2258.85 1752.73,2259.23 1758.22,2260.33C1763.71,2261.43 1768.11,2262.91 1774.7,2263.62C1781.29,2264.34 1790.07,2264.17 1797.76,2264.61C1805.45,2265.05 1812.59,2265.99 1820.82,2266.26C1829.06,2266.53 1837.3,2266.26 1847.18,2266.26C1857.07,2266.26 1871.35,2266.1 1880.13,2266.26C1888.92,2266.43 1892.58,2267.05 1899.9,2267.25C1907.22,2267.44 1914.54,2266.58 1924.05,2267.43C1933.57,2268.28 1944.92,2271.27 1957,2272.37C1969.08,2273.47 1984.46,2273.58 1996.54,2274.02C2008.62,2274.46 2018.51,2274.62 2029.49,2275.01C2040.47,2275.39 2051.46,2276.05 2062.44,2276.33C2073.42,2276.6 2081.66,2276.66 2095.39,2276.66C2109.12,2276.66 2128.34,2276.33 2144.81,2276.33C2161.29,2276.33 2177.76,2276.6 2194.23,2276.66C2210.71,2276.71 2230.08,2276.66 2243.66,2276.66C2257.24,2276.66 2270.36,2276.66 2275.7,2276.66"/>
</g>
<g stroke="#a0a0a0" stroke-width="6.0" stroke-dasharray="30.3 25.87" fill="none">
<line x1="267" y1="44.2" x2="267" y2="1729"/>
<line x1="392" y1="44" x2="392" y2="1729"/>
<line x1="497" y1="47.1" x2="497" y2="1729"/>
<line x1="631" y1="44.8" x2="631" y2="1729"/>
<line x1="841" y1="44.8" x2="841" y2="1729"/>
<line x1="975" y1="44.8" x2="975" y2="1729"/>
<line x1="1109" y1="50.2" x2="1109" y2="1739.6"/>
<line x1="1281" y1="42.8" x2="1281" y2="1733"/>
<line x1="1444" y1="42.8" x2="1444" y2="1733"/>
<line x1="1682" y1="43.3" x2="1682" y2="1729"/>
</g>
<g stroke="#000" stroke-width="3" fill="#000">
<line x1="267.6" y1="2164.05" x2="267.6" y2="2214"/>
<polygon stroke="none" points="257.8,2212 277.4,2212 267.6,2252.7"/>
<line x1="392.65" y1="2136.9" x2="392.65" y2="2187.2"/>
<polygon stroke="none" points="382.85,2185.2 402.45,2185.2 392.65,2225"/>
<line x1="497.4" y1="2144.1" x2="497.4" y2="2192.8"/>
<polygon stroke="none" points="487.6,2190.8 507.2,2190.8 497.4,2231.9"/>
<line x1="631.3" y1="2160" x2="631.3" y2="2208.9"/>
<polygon stroke="none" points="621.5,2206.9 641.1,2206.9 631.3,2247.3"/>
<line x1="841.3" y1="2077.3" x2="841.3" y2="2127.3"/>
<polygon stroke="none" points="831.5,2125.3 851.1,2125.3 841.3,2165.3"/>
<line x1="975.3" y1="1911.8" x2="975.3" y2="1861.2"/>
<polygon stroke="none" points="965.5,1863.2 985.1,1863.2 975.3,1824.3"/>
<line x1="1108.6" y1="1840.1" x2="1108.6" y2="1890.5"/>
<polygon stroke="none" points="1098.8,1888.5 1118.4,1888.5 1108.6,1928"/>
<line x1="1280.9" y1="1778.1" x2="1280.9" y2="1828.1"/>
<polygon stroke="none" points="1271.1,1826.1 1290.7,1826.1 1280.9,1866.3"/>
<line x1="1443.7" y1="1911.1" x2="1443.7" y2="1961.2"/>
<polygon stroke="none" points="1433.9,1959.2 1453.5,1959.2 1443.7,1999.5"/>
<line x1="1682.6" y1="2096.3" x2="1682.6" y2="2146.1"/>
<polygon stroke="none" points="1672.8,2144.1 1692.4,2144.1 1682.6,2183.6"/>
</g>
<text font-size="82" transform="translate(172.57 126.68) scale(1.0086 1.0155)">(d)</text>
<text font-size="82" transform="translate(175.53 680.53) scale(1.0088 1.0127)">(c)</text>
<text font-size="82" transform="translate(172.57 1236.51) scale(0.9806 1.0079)">(b)</text>
<text font-size="82" transform="translate(172.58 1812.39) scale(1.0068 1.0149)">(a)</text>
<text font-size="85" transform="translate(1720.23 180.75) scale(0.9926 0.9890)">dry-wet-milled</text>
<text font-size="85" transform="translate(1759.07 719.82) scale(1.0095 1.0071)">dry-milled</text>
<text font-size="85" transform="translate(1728.3 1270.38) scale(0.9992 0.9826)">coarse-grained</text>
<text font-size="85" transform="translate(1759.75 1842.31) scale(1.0018 0.9917)">unmilled bulk</text>
<text font-size="98.5" transform="translate(1771.9 292.1) scale(0.9985 1.0350)">g/c-As<tspan font-size="67" dy="27">67</tspan><tspan dy="-27">Se</tspan><tspan font-size="67" dy="27">33</tspan></text>
<text font-size="98.5" transform="translate(1772.1 813) scale(0.9985 1.0350)">g/c-As<tspan font-size="67" dy="27">67</tspan><tspan dy="-27">Se</tspan><tspan font-size="67" dy="27">33</tspan></text>
<text font-size="98.5" transform="translate(1768.8 1387.7) scale(0.9985 1.0350)">g/c-As<tspan font-size="67" dy="27">67</tspan><tspan dy="-27">Se</tspan><tspan font-size="67" dy="27">33</tspan></text>
<text font-size="98.5" transform="translate(1769.8 1948.2) scale(0.9985 1.0350)">g/c-As<tspan font-size="67" dy="27">67</tspan><tspan dy="-27">Se</tspan><tspan font-size="67" dy="27">33</tspan></text>
<text class="tk" font-size="90" transform="translate(99.03 2404.16) scale(0.9861 1.0567)">120</text>
<text class="tk" font-size="90" transform="translate(481.43 2404.16) scale(0.9861 1.0567)">160</text>
<text class="tk" font-size="90" transform="translate(863.83 2404.16) scale(0.9861 1.0567)">200</text>
<text class="tk" font-size="90" transform="translate(1246.23 2404.16) scale(0.9861 1.0567)">240</text>
<text class="tk" font-size="90" transform="translate(1628.63 2404.16) scale(0.9861 1.0567)">280</text>
<text class="tk" font-size="90" transform="translate(2011.03 2404.16) scale(0.9861 1.0567)">320</text>
<text font-size="99" transform="translate(840.36 2521.8) scale(0.9949 1.0000)">Raman shift, cm</text>
<text font-size="68" transform="translate(1533.89 2480.4) scale(1.0023 1.0733)">−1</text>
<text font-size="99" transform="translate(89.83 1333.82) scale(0.9867 1.0211) rotate(-90)">Intensity, a.u.</text>
<text font-size="68" transform="translate(284.23 2154.54) scale(1.0283 0.9894) rotate(-90)">130</text>
<text font-size="68" transform="translate(415.42 2128.67) scale(1.0339 0.9942) rotate(-90)">143</text>
<text font-size="68" transform="translate(514.73 2128.59) scale(1.0208 0.9795) rotate(-90)">154</text>
<text font-size="68" transform="translate(656.03 2144.55) scale(1.0217 0.9910) rotate(-90)">168</text>
<text font-size="68" transform="translate(844.04 2070.87) scale(1.0130 0.9947) rotate(-90)">190</text>
<text font-size="68" transform="translate(1000.23 2035.52) scale(1.0217 0.9888) rotate(-90)">204</text>
<text font-size="68" transform="translate(1097.13 1870.55) scale(1.0217 0.9990) rotate(-90)">218</text>
<text font-size="68" transform="translate(1254.03 1870.37) scale(1.0273 1.0057) rotate(-90)">236</text>
<text font-size="68" transform="translate(1460.13 1896.64) scale(1.0295 0.9979) rotate(-90)">253</text>
<text font-size="68" transform="translate(1694.23 2080.65) scale(1.0217 0.9990) rotate(-90)">278</text>
<g fill="#fff">
<rect class="foot" x="104" y="2393.3" width="15.6" height="12.5"/>
<rect class="foot" x="132.4" y="2393.3" width="15.1" height="12.5"/>
<rect class="foot" x="486.2" y="2393.3" width="15.4" height="12.5"/>
<rect class="foot" x="514.4" y="2393.3" width="15.1" height="12.5"/>
</g>
</svg></body></html>
